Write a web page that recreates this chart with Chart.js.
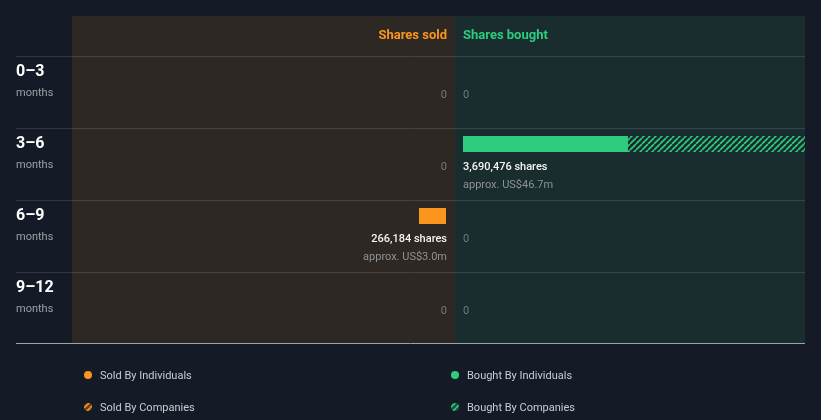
<!DOCTYPE html>
<html><head><meta charset="utf-8">
<script src="https://cdn.jsdelivr.net/npm/chart.js@4.4.1/dist/chart.umd.min.js"></script>
<style>html,body{margin:0;padding:0;background:#151b26;}canvas{display:block;}</style>
</head><body>
<canvas id="c" width="821" height="420"></canvas>
<script>
// ---- data ----
const periods = ['0–3', '3–6', '6–9', '9–12'];
const periodUnit = 'months';
const soldByIndividuals = [0, 0, 266184, 0];
const soldByCompanies = [0, 0, 0, 0];
const boughtByIndividuals = [0, 1628000, 0, 0];
const boughtByCompanies = [0, 2062476, 0, 0];
const soldValueUSDm = [0, 0, 3.0, 0];
const boughtValueUSDm = [0, 46.7, 0, 0];
const seriesLabels = ['Sold By Individuals', 'Sold By Companies', 'Bought By Individuals', 'Bought By Companies'];
const headerLabels = ['Shares sold', 'Shares bought'];

// ---- style / layout ----
const ORANGE = '#fc951e', GREEN = '#2dcc7f';
const BG = '#151b26', SOLD_BG = '#2d2823', BOUGHT_BG = '#192d2e';
const FONT = 'Roboto, "Noto Sans", sans-serif';
const PANEL_TOP = 16, PANEL_BOTTOM = 343, TEXT_LEFT = 16, SOLD_LEFT = 72, DIVIDE = 455, BOUGHT_RIGHT = 805;
const GAP_L = 9, GAP_R = 8;
const SOLD_LEN = DIVIDE - GAP_L - SOLD_LEFT;       // pixel length of sold axis
const BOUGHT_LEN = BOUGHT_RIGHT - DIVIDE - GAP_R;  // pixel length of bought axis

const soldTotal = soldByIndividuals.map((v, i) => v + soldByCompanies[i]);
const boughtTotal = boughtByIndividuals.map((v, i) => v + boughtByCompanies[i]);
const maxTotal = Math.max(...soldTotal, ...boughtTotal);

const canvas = document.getElementById('c');
const mainCtx = canvas.getContext('2d');
function hatch(color, bg) {
  const c = document.createElement('canvas'); c.width = 6; c.height = 6;
  const x = c.getContext('2d');
  if (bg) { x.fillStyle = bg; x.fillRect(0, 0, 6, 6); }
  x.strokeStyle = color; x.lineWidth = 1.6;
  x.beginPath();
  for (const o of [-6, 0, 6]) { x.moveTo(o, 6); x.lineTo(o + 6, 0); }
  x.stroke();
  return mainCtx.createPattern(c, 'repeat');
}
const hatchSold = hatch(ORANGE), hatchBought = hatch(GREEN);
const hatchSoldDot = hatch(ORANGE, '#6a4416'), hatchBoughtDot = hatch(GREEN, '#17583a');

const fmt = n => n.toLocaleString('en-US');

const plugin = {
  id: 'insider',
  afterLayout(chart) {
    const xs = chart.scales.xs, xb = chart.scales.xb;
    xs.left = SOLD_LEFT; xs.right = DIVIDE - GAP_L; xs.width = SOLD_LEN; xs.configure();
    xb.left = DIVIDE + GAP_R; xb.right = BOUGHT_RIGHT; xb.width = BOUGHT_LEN; xb.configure();
  },
  beforeDraw(chart) {
    const ctx = chart.ctx, y = chart.scales.y;
    ctx.save();
    ctx.fillStyle = BG; ctx.fillRect(0, 0, chart.width, chart.height);
    ctx.fillStyle = SOLD_BG; ctx.fillRect(SOLD_LEFT, PANEL_TOP, DIVIDE - SOLD_LEFT, PANEL_BOTTOM - PANEL_TOP);
    ctx.fillStyle = BOUGHT_BG; ctx.fillRect(DIVIDE, PANEL_TOP, BOUGHT_RIGHT - DIVIDE, PANEL_BOTTOM - PANEL_TOP);
    ctx.strokeStyle = 'rgba(255,255,255,0.12)'; ctx.lineWidth = 1;
    periods.forEach((p, i) => {
      const ly = Math.round(y.getPixelForValue(i) - 16) + 0.5;
      ctx.beginPath(); ctx.moveTo(TEXT_LEFT, ly); ctx.lineTo(BOUGHT_RIGHT, ly); ctx.stroke();
    });
    ctx.strokeStyle = '#9ea3a8';
    ctx.beginPath(); ctx.moveTo(TEXT_LEFT, PANEL_BOTTOM + 0.5); ctx.lineTo(BOUGHT_RIGHT, PANEL_BOTTOM + 0.5); ctx.stroke();
    // headers
    ctx.font = 'bold 13px ' + FONT; ctx.textBaseline = 'alphabetic';
    ctx.fillStyle = ORANGE; ctx.textAlign = 'right'; ctx.fillText(headerLabels[0], DIVIDE - 8, 39);
    ctx.fillStyle = GREEN; ctx.textAlign = 'left'; ctx.fillText(headerLabels[1], DIVIDE + GAP_R, 39);
    // row labels
    periods.forEach((p, i) => {
      const c = y.getPixelForValue(i);
      ctx.textAlign = 'left';
      ctx.fillStyle = '#ffffff'; ctx.font = 'bold 16px ' + FONT; ctx.fillText(p, TEXT_LEFT, c + 4);
      ctx.fillStyle = '#9ca0a4'; ctx.font = '11px ' + FONT; ctx.fillText(periodUnit, TEXT_LEFT, c + 24);
    });
    ctx.restore();
  },
  afterDatasetsDraw(chart) {
    const ctx = chart.ctx, y = chart.scales.y;
    ctx.save();
    ctx.textBaseline = 'middle';
    periods.forEach((p, i) => {
      const c = y.getPixelForValue(i);
      [[soldTotal[i], soldValueUSDm[i], 'right', DIVIDE - GAP_L + 1],
       [boughtTotal[i], boughtValueUSDm[i], 'left', DIVIDE + GAP_R]].forEach(([tot, usd, al, x]) => {
        ctx.textAlign = al;
        if (tot === 0) {
          ctx.font = '11px ' + FONT; ctx.fillStyle = '#75787b';
          ctx.fillText('0', x, c + 23);
        } else {
          ctx.font = '500 11px ' + FONT; ctx.fillStyle = '#f4f4f4';
          ctx.fillText(fmt(tot) + ' shares', x, c + 23);
          ctx.font = '11px ' + FONT; ctx.fillStyle = '#8e9296';
          ctx.fillText('approx. US$' + usd.toFixed(1) + 'm', x, c + 41);
        }
      });
    });
    // legend
    const ds = chart.data.datasets;
    const pos = [[88, 375], [88, 407], [455, 375], [455, 407]];
    const dotFill = [ORANGE, hatchSoldDot, GREEN, hatchBoughtDot];
    ds.forEach((d, k) => {
      const [lx, ly] = pos[k];
      ctx.beginPath(); ctx.arc(lx, ly, 4, 0, Math.PI * 2); ctx.fillStyle = dotFill[k]; ctx.fill();
      ctx.font = '11px ' + FONT; ctx.fillStyle = '#c9ccd0'; ctx.textAlign = 'left';
      ctx.fillText(d.label, lx + 12, ly + 1);
    });
    ctx.restore();
  }
};

const common = { grouped: false, maxBarThickness: 16, barThickness: 16, clip: 0, borderWidth: 0, inflateAmount: 0, yAxisID: 'y' };
new Chart(canvas, {
  type: 'bar',
  data: {
    labels: periods,
    datasets: [
      Object.assign({ label: seriesLabels[0], data: soldByIndividuals, xAxisID: 'xs', stack: 'sold', backgroundColor: ORANGE }, common),
      Object.assign({ label: seriesLabels[1], data: soldByCompanies, xAxisID: 'xs', stack: 'sold', backgroundColor: hatchSold }, common),
      Object.assign({ label: seriesLabels[2], data: boughtByIndividuals, xAxisID: 'xb', stack: 'bought', backgroundColor: GREEN }, common),
      Object.assign({ label: seriesLabels[3], data: boughtByCompanies, xAxisID: 'xb', stack: 'bought', backgroundColor: hatchBought }, common)
    ]
  },
  options: {
    indexAxis: 'y',
    responsive: false,
    animation: false,
    layout: { padding: { left: SOLD_LEFT, right: 821 - BOUGHT_RIGHT, top: 36, bottom: 96 } },
    scales: {
      y: { type: 'category', display: false, offset: true },
      xs: { type: 'linear', display: false, min: 0, max: maxTotal, reverse: true, position: 'bottom' },
      // same shares-per-pixel as the sold axis
      xb: { type: 'linear', display: false, min: 0, max: maxTotal * BOUGHT_LEN / SOLD_LEN, position: 'bottom' }
    },
    plugins: { legend: { display: false }, tooltip: { enabled: false } }
  },
  plugins: [plugin]
});
</script>
</body></html>
